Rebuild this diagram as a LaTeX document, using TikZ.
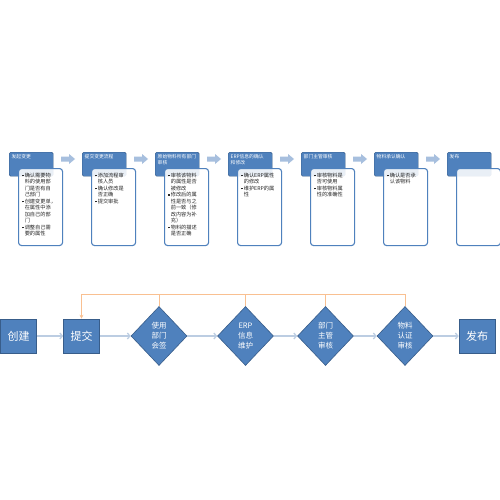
\documentclass[tikz,border=0pt]{standalone}
\usepackage{fontspec}
\setmainfont{Noto Sans CJK SC}
\usetikzlibrary{arrows.meta,shapes.geometric}
\definecolor{ofblue}{RGB}{79,129,189}
\definecolor{ofdark}{RGB}{56,93,138}
\definecolor{blockarrow}{RGB}{167,191,222}
\definecolor{connc}{RGB}{188,205,226}
\definecolor{fbcol}{RGB}{249,192,145}
\newcommand\bul{\rule[0.8pt]{1.4pt}{1.4pt}\hspace{1.2pt}}
\newcommand\ind{\hspace*{2.6pt}}
\newcommand\mkcol[4]{%
  \node[hdr] (h#2) at (#1,152) {};
  \node[hdrtxt] (ht#2) at ([shift={(2.5,2.5)}]h#2.north west) {#3};
  \node[bodybox] (b#2) at (#1+9,168) {};
  \node[bodytxt] (bt#2) at ([shift={(4,4.5)}]b#2.north west) {#4};
}
\newcommand\mkarrow[1]{%
  \fill[blockarrow] (#1+52,156.5) -- (#1+60,156.5) -- (#1+60,154) -- (#1+66,159)
    -- (#1+60,164) -- (#1+60,161.5) -- (#1+52,161.5) -- cycle;
}
\begin{document}
\begin{tikzpicture}[x=1pt,y=-1pt,
  hdr/.style={draw=ofdark, line width=0.4pt, fill=ofblue, rounded corners=1.5pt,
    minimum width=44pt, minimum height=24pt, anchor=north west, inner sep=0pt},
  hdrtxt/.style={anchor=north west, inner sep=0pt, text=white,
    font=\fontsize{4.8}{6.2}\selectfont, align=left},
  bodybox/.style={draw=ofblue, line width=1.1pt, fill=white, fill opacity=0.88,
    rounded corners=3pt, minimum width=44pt, minimum height=77pt, anchor=north west, inner sep=0pt},
  bodytxt/.style={anchor=north west, inner sep=0pt, text=black!85,
    font=\fontsize{5.2}{6.5}\selectfont, align=left},
  bbox/.style={draw=ofdark, line width=0.6pt, fill=ofblue, minimum width=36pt,
    minimum height=34pt, inner sep=0pt, text=white, font=\fontsize{11}{13}\selectfont},
  dia/.style={diamond, draw=ofdark, line width=0.6pt, fill=ofblue, minimum width=56pt,
    minimum height=59pt, inner sep=0pt, text=white, font=\fontsize{7.5}{10}\selectfont, align=center},
  conn/.style={draw=connc, line width=1.3pt, -{Straight Barb[length=2.5pt,width=6pt]}},
  fbc/.style={draw=fbcol, line width=0.8pt}
]
\useasboundingbox[fill=white] (0,0) rectangle (500,500);

% top process chart
\mkcol{9}{1}{发起变更}{\bul 确认需要物\\\ind 料的使用部\\\ind 门是否有自\\\ind 己部门\\\bul 创建变更单，\\\ind 在属性中添\\\ind 加自己的部\\\ind 门\\\bul 调整自己需\\\ind 要的属性}
\mkcol{82}{2}{提交变更流程}{\bul 添加流程审\\\ind 核人员\\\bul 确认修改是\\\ind 否正确\\\bul 提交审批}
\mkcol{155}{3}{原始物料所有部门\\审核}{\bul 审核该物料\\\ind 的属性是否\\\ind 被修改\\\bul 修改后的属\\\ind 性是否与之\\\ind 前一致（修\\\ind 改内容为补\\\ind 充）\\\bul 物料的描述\\\ind 是否正确}
\mkcol{228}{4}{ERP信息的确认\\和修改}{\bul 确认ERP属性\\\ind 的修改\\\bul 维护ERP的属\\\ind 性}
\mkcol{301}{5}{部门主管审核}{\bul 审核物料是\\\ind 否可使用\\\bul 审核物料属\\\ind 性的准确性}
\mkcol{374}{6}{物料承认确认}{\bul 确认是否承\\\ind 认该物料}
\mkcol{447}{7}{发布}{}
\mkarrow{9}
\mkarrow{82}
\mkarrow{155}
\mkarrow{228}
\mkarrow{301}
\mkarrow{374}

% bottom flowchart
\node[bbox] (cj) at (18.5,336) {创建};
\node[bbox] (tj) at (81.5,336) {提交};
\node[dia] (d1) at (159,336) {使用\\部门\\会签};
\node[dia] (d2) at (245.5,336) {ERP\\信息\\维护};
\node[dia] (d3) at (325.5,336) {部门\\主管\\审核};
\node[dia] (d4) at (405,336) {物料\\认证\\审核};
\node[bbox] (fbu) at (477,336) {发布};

\draw[conn] (cj) -- (tj);
\draw[conn] (tj) -- (d1);
\draw[conn] (d1) -- (d2);
\draw[conn] (d2) -- (d3);
\draw[conn] (d3) -- (d4);
\draw[conn] (d4) -- (fbu);

\coordinate (fbline) at (0,294);
\draw[fbc, -{Stealth[length=4pt,width=4pt]}] (d4.north) -- (d4.north |- fbline) -- (tj.north |- fbline) -- (tj.north);
\draw[fbc] (d1.north) -- (d1.north |- fbline);
\draw[fbc] (d2.north) -- (d2.north |- fbline);
\draw[fbc] (d3.north) -- (d3.north |- fbline);
\end{tikzpicture}
\end{document}
